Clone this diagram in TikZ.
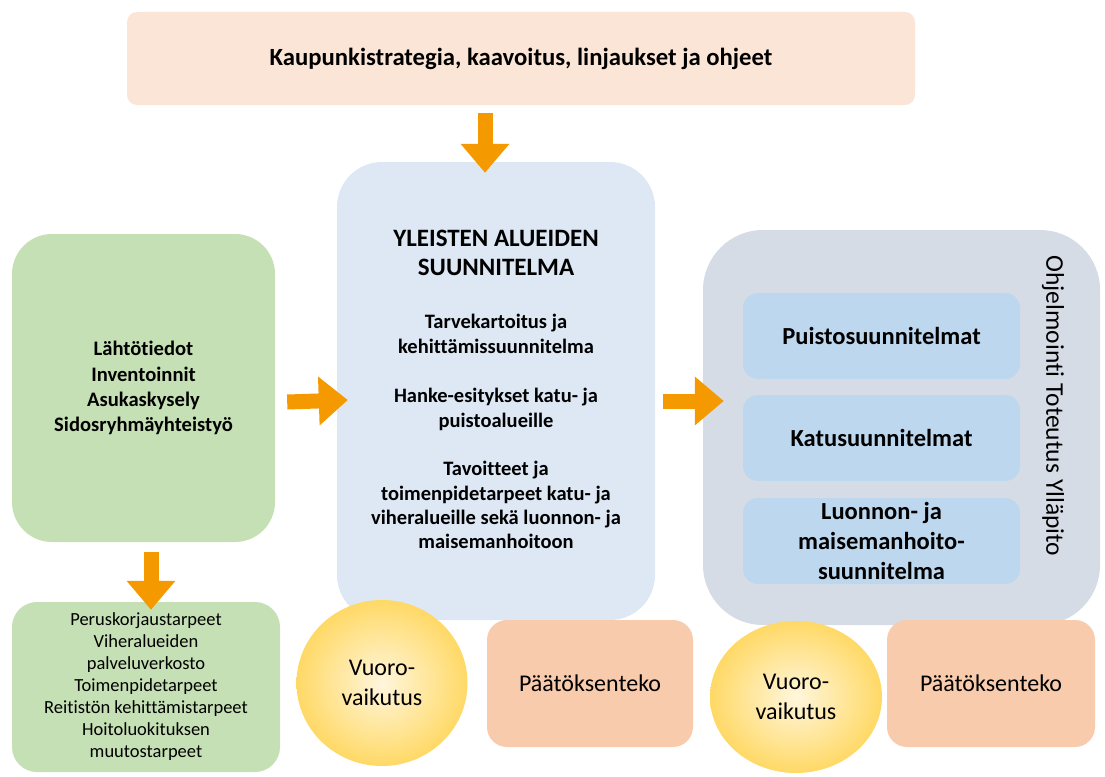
\documentclass[tikz,border=0pt]{standalone}
\usepackage{fontspec}
\setmainfont{Carlito}[Ligatures=NoCommon]
\usetikzlibrary{arrows.meta,calc,shapes.geometric}
\definecolor{peach}{HTML}{FBE5D6}
\definecolor{cblue}{HTML}{DDE8F4}
\definecolor{cgreen}{HTML}{C5E0B4}
\definecolor{cgray}{HTML}{D6DCE5}
\definecolor{iblue}{HTML}{BDD7EE}
\definecolor{salmon}{HTML}{F8CBAD}
\definecolor{arrowc}{HTML}{F49A00}
\definecolor{yedge}{HTML}{FFD966}
\definecolor{ycenter}{HTML}{FFF6DC}
\newcommand{\fs}[1]{\fontsize{#1}{1.22\dimexpr #1pt\relax}\selectfont}
\begin{document}
\begin{tikzpicture}[x=1pt,y=-1pt,
  box/.style={rectangle, inner sep=0pt, align=center, text=black},
  blockarrow/.style={draw=arrowc, line width=15pt, -{Triangle[width=47pt,length=29pt]}},
  bubble/.style={ellipse, inner sep=0pt, align=center, shading=radial, inner color=ycenter, outer color=yedge, font=\fs{24}},
  decision/.style={box, fill=salmon, rounded corners=20pt, minimum height=127pt, font=\fs{24}},
  plan/.style={box, fill=iblue, rounded corners=15pt, minimum width=277pt, minimum height=86pt, font=\bfseries\fs{24.5}},
  ctitle/.style={box, font=\bfseries\fs{25}, anchor=base},
  cbody/.style={box, font=\bfseries\fs{20.5}, anchor=base}
]
\useasboundingbox (0,0) rectangle (1105,776);

% top box
\node[box, fill=peach, rounded corners=10pt, minimum width=788pt, minimum height=93pt, font=\bfseries\fs{24.7}]
  (top) at (521,58.5) {Kaupunkistrategia, kaavoitus, linjaukset ja ohjeet};

% center box
\node[box, fill=cblue, rounded corners=45pt, minimum width=318pt, minimum height=458pt] (cbox) at (496,391) {};
\node[ctitle] (ct1) at (496,246) {YLEISTEN ALUEIDEN};
\node[ctitle] (ct2) at (496,275) {SUUNNITELMA};
\node[cbody] (c1a) at (496,328) {Tarvekartoitus ja};
\node[cbody] (c1b) at (496,353) {kehittämissuunnitelma};
\node[cbody] (c2a) at (496,402) {Hanke-esitykset katu- ja};
\node[cbody] (c2b) at (496,427) {puistoalueille};
\node[cbody] (c3a) at (496,475) {Tavoitteet ja};
\node[cbody] (c3b) at (496,500) {toimenpidetarpeet katu- ja};
\node[cbody] (c3c) at (496,524) {viheralueille sekä luonnon- ja};
\node[cbody] (c3d) at (496,548) {maisemanhoitoon};

% left green boxes
\node[box, fill=cgreen, rounded corners=40pt, minimum width=263pt, minimum height=308pt, font=\bfseries\fs{20.6}]
  (green) at (143.5,388) {Lähtötiedot\\Inventoinnit\\Asukaskysely\\Sidosryhmäyhteistyö};
\node[box, fill=cgreen, rounded corners=25pt, minimum width=268pt, minimum height=170pt, font=\fontsize{18.5}{22}\selectfont]
  (needs) at (146,687) {Peruskorjaustarpeet\\Viheralueiden\\palveluverkosto\\Toimenpidetarpeet\\Reitistön kehittämistarpeet\\Hoitoluokituksen\\muutostarpeet};

% right gray box
\node[box, fill=cgray, rounded corners=60pt, minimum width=397pt, minimum height=395pt] (gray) at (901.5,427.5) {};
\node[plan] (p1) at (881.5,336) {Puistosuunnitelmat};
\node[plan] (p2) at (881.5,438) {Katusuunnitelmat};
\node[plan] (p3) at (881.5,541) {Luonnon- ja\\maisemanhoito-\\suunnitelma};
\node[box, rotate=-90, font=\fs{25.5}] (vert) at (1053,406) {Ohjelmointi Toteutus Ylläpito};

% bottom row
\node[bubble, minimum width=171pt, minimum height=166pt] (v1) at (382,683) {Vuoro-\\vaikutus};
\node[decision, minimum width=206pt] (d1) at (590,683.5) {Päätöksenteko};
\node[bubble, minimum width=172pt, minimum height=152pt] (v2) at (796,697) {Vuoro-\\vaikutus};
\node[decision, minimum width=208pt] (d2) at (991,683.5) {Päätöksenteko};

% arrows
\draw[blockarrow] ([xshift=-36pt,yshift=-8pt]top.south) -- ([xshift=-11pt,yshift=-11pt]cbox.north);
\draw[blockarrow] ([xshift=7.5pt,yshift=-10pt]green.south) -- ([xshift=5pt,yshift=-8pt]needs.north);
\draw[blockarrow] ([xshift=12pt,yshift=-14pt]green.east) -- ([xshift=11pt,yshift=-9pt]cbox.west);
\draw[blockarrow] ([xshift=8pt,yshift=-10pt]cbox.east) -- ([xshift=21pt,yshift=26.5pt]gray.west);
\end{tikzpicture}
\end{document}
